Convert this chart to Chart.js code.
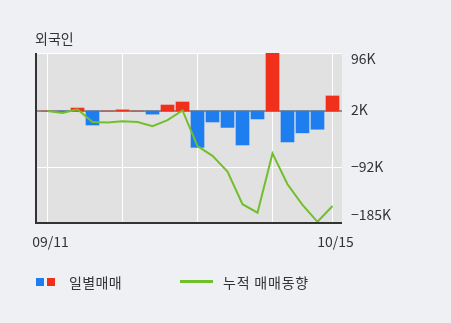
<!DOCTYPE html>
<html><head><meta charset="utf-8">
<script src="https://cdn.jsdelivr.net/npm/chart.js@4"></script>
<style>
html,body{margin:0;padding:0;background:#eef0f4;width:451px;height:323px;overflow:hidden;font-family:"Noto Sans CJK KR","Noto Sans",sans-serif;}
#wrap{position:relative;width:451px;height:323px;}
#c{position:absolute;left:0;top:0;}
#title{position:absolute;left:35px;top:29px;font-size:14px;line-height:18px;color:#333;}
.lg{position:absolute;top:273px;font-size:14px;line-height:18px;color:#333;white-space:nowrap;}
.sq{position:absolute;top:278px;width:8px;height:8px;}
.ln{position:absolute;top:280px;width:33px;height:3px;background:#72bf2c;}
</style></head>
<body><div id="wrap">
<canvas id="c" width="451" height="323"></canvas>
<div id="title">외국인</div>
<div class="sq" style="left:36px;background:#1e7ef0"></div>
<div class="sq" style="left:47px;background:#f0301a"></div>
<div class="lg" style="left:69px;letter-spacing:0.4px">일별매매</div>
<div class="ln" style="left:180px"></div>
<div class="lg" style="left:223px;letter-spacing:0.8px">누적 매매동향</div>
</div>
<script>
const categories = ['09/11','09/12','09/13','09/14','09/17','09/18','09/19','09/20','09/21','09/27','09/28','10/01','10/02','10/04','10/05','10/08','10/10','10/11','10/12','10/15'];
const dailyNet = [0, -1, 5, -23, 0, 2, 0, -5, 10, 15, -60, -18, -27, -56, -13, 97, -51, -36, -30, 25];
const cumulative = [0, -3, 3, -18, -19, -17, -18, -25, -15, 1, -58, -74, -100, -154, -168, -70, -121, -155, -183, -157];
const yTickValues = [96, 2, -92, -185];
const yTickLabels = ['96K', '2K', '\u221292K', '\u2212185K'];
const xLabelIndexes = [0, 19];
const xGridIndexes = [0, 5, 10, 15, 19];

const RED = '#f0301a', BLUE = '#1e7ef0', GREEN = '#72bf2c';

const framePlugin = {
  id: 'frame',
  beforeDraw(chart) {
    const {ctx, chartArea: a} = chart;
    ctx.save();
    ctx.fillStyle = '#e1e1e1';
    ctx.fillRect(36, a.top, 342 - 36, a.bottom - a.top);
    const y = chart.scales.y;
    ctx.strokeStyle = '#ffffff';
    ctx.lineWidth = 1;
    [yTickValues[0], yTickValues[2]].forEach(v => {
      const py = Math.round(y.getPixelForValue(v)) + 0.5;
      ctx.beginPath(); ctx.moveTo(36, py); ctx.lineTo(342, py); ctx.stroke();
    });
    ctx.restore();
  },
  beforeDatasetsDraw(chart) {
    const {ctx} = chart;
    const y = chart.scales.y;
    const py = y.getPixelForValue(0);
    ctx.save();
    ctx.strokeStyle = '#8f8f8f';
    ctx.lineWidth = 2;
    ctx.beginPath(); ctx.moveTo(36, py); ctx.lineTo(342, py); ctx.stroke();
    ctx.restore();
  },
  afterDraw(chart) {
    const {ctx, chartArea: a} = chart;
    const y = chart.scales.y;
    ctx.save();
    ctx.fillStyle = '#333333';
    ctx.fillRect(35, a.top, 2, a.bottom - a.top + 1);
    ctx.fillRect(35, a.bottom - 1, 342 - 35, 2);
    ctx.font = '14px "Noto Sans CJK KR", "Noto Sans", sans-serif';
    ctx.textAlign = 'left';
    ctx.textBaseline = 'middle';
    yTickValues.forEach((v, i) => {
      let py = y.getPixelForValue(v);
      py = Math.max(a.top + 6, Math.min(a.bottom - 8, py));
      ctx.fillText(yTickLabels[i], 351, py);
    });
    ctx.restore();
  }
};

new Chart(document.getElementById('c'), {
  data: {
    labels: categories,
    datasets: [
      {
        type: 'line',
        label: '누적 매매동향',
        data: cumulative,
        borderColor: GREEN,
        borderWidth: 2,
        pointRadius: 0,
        tension: 0,
        order: 0
      },
      {
        type: 'bar',
        label: '일별매매',
        data: dailyNet,
        backgroundColor: c => (c.raw >= 0 ? RED : BLUE),
        barThickness: 13,
        order: 1
      }
    ]
  },
  options: {
    responsive: false,
    animation: false,
    layout: {padding: {left: 40, top: 53, right: 0, bottom: 70}},
    plugins: {legend: {display: false}, tooltip: {enabled: false}},
    scales: {
      x: {
        type: 'category',
        offset: true,
        grid: {
          offset: false,
          drawTicks: false,
          color: c => (c.type === 'tick' && xGridIndexes.includes(c.index) ? '#ffffff' : 'rgba(0,0,0,0)'),
          lineWidth: 1
        },
        border: {display: false},
        ticks: {
          autoSkip: false,
          maxRotation: 0,
          padding: 10,
          labelOffset: 3,
          color: '#333',
          font: {size: 14, family: '"Noto Sans CJK KR", "Noto Sans", sans-serif'},
          callback: (v, i) => (xLabelIndexes.includes(i) ? categories[i] : '')
        },
        afterFit: s => { s.height = 30; }
      },
      y: {
        position: 'right',
        min: -185,
        max: 96,
        afterBuildTicks: s => { s.ticks = yTickValues.map(v => ({value: v})); },
        grid: {display: false},
        border: {display: false},
        ticks: {display: false},
        afterFit: s => { s.width = 111; }
      }
    }
  },
  plugins: [framePlugin]
});
</script>
</body></html>
